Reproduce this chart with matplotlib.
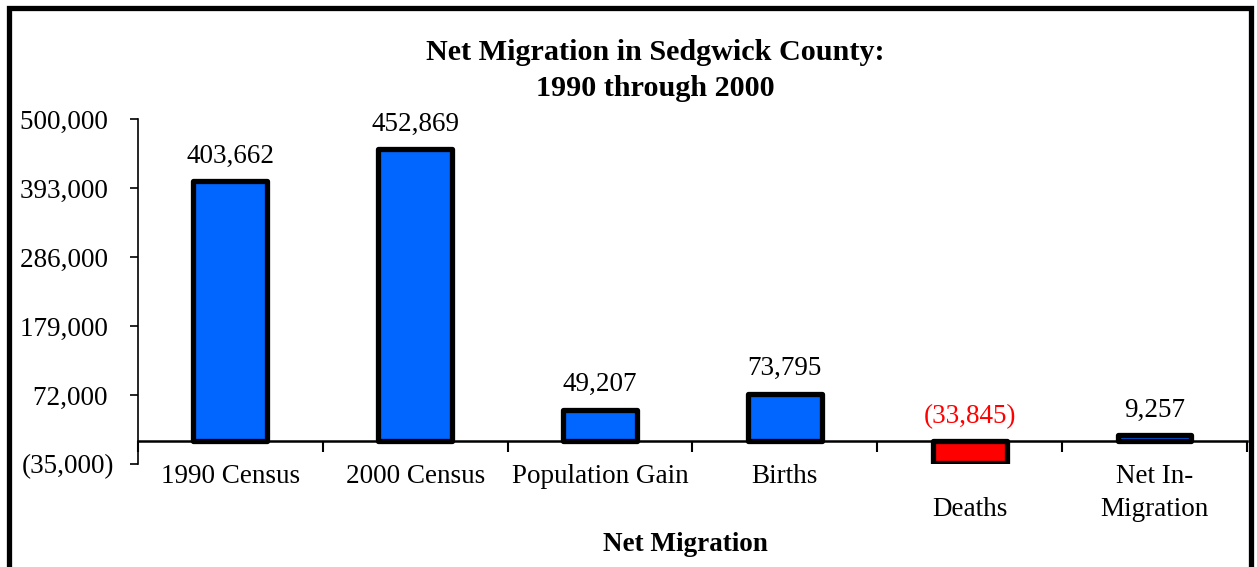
import matplotlib.pyplot as plt
from matplotlib.patches import Rectangle
from matplotlib.ticker import FixedLocator, FuncFormatter

# Components of population change, 1990-2000
categories = ["1990 Census", "2000 Census", "Population Gain", "Births",
              "\nDeaths", "Net In-\nMigration"]
values = [403662, 452869, 49207, 73795, -33845, 9257]
bar_colors = ["#0066FF", "#0066FF", "#0066FF", "#0066FF", "#FF0000", "#0066FF"]
label_colors = ["black", "black", "black", "black", "#FF0000", "black"]
y_ticks = [-35000, 72000, 179000, 286000, 393000, 500000]

plt.rcParams['font.family'] = ['Liberation Serif', 'DejaVu Serif']
FS = 19.5

fig = plt.figure(figsize=(12.57, 5.67), dpi=100)
ax = fig.add_axes([0.1098, 0.1817, 0.8822, 0.6085])

x = range(len(values))
ax.bar(x, values, width=0.4, color=bar_colors, edgecolor="black",
       linewidth=3.8, joinstyle="round", zorder=3)


def money(v, pos=None):
    # negatives shown in parentheses, positives padded to line up
    if v < 0:
        return f"({abs(v):,.0f})"
    return f"{v:,.0f} "


for i, v in enumerate(values):
    ax.annotate(money(v).strip(), (i, max(v, 0)), xytext=(0, 9),
                textcoords="offset points", ha="center", va="bottom",
                fontsize=FS, color=label_colors[i])

ax.set_xlim(-0.5, len(values) - 0.5)
ax.set_ylim(y_ticks[0], y_ticks[-1])

ax.yaxis.set_major_locator(FixedLocator(y_ticks))
ax.yaxis.set_major_formatter(FuncFormatter(money))
ax.tick_params(axis="y", direction="out", length=6, width=1.2, labelsize=FS, pad=11)

# category axis sits on the zero line
ax.spines["bottom"].set_position(("data", 0))
ax.spines["bottom"].set_linewidth(1.8)
ax.spines["left"].set_linewidth(1.2)
ax.spines["top"].set_visible(False)
ax.spines["right"].set_visible(False)
ax.set_xticks([i + 0.5 for i in range(-1, len(values))])
ax.set_xticklabels([])
ax.tick_params(axis="x", which="major", direction="out", length=8, width=1.5)
ax.set_xticks(list(x), minor=True)
ax.set_xticklabels(categories, minor=True, fontsize=FS, va="top",
                   linespacing=1.45)
ax.tick_params(axis="x", which="minor", length=0, pad=16)

fig.text(0.521, 0.932, "Net Migration in Sedgwick County:\n1990 through 2000",
         ha="center", va="top", fontsize=21.7, fontweight="bold", linespacing=1.45)
fig.text(0.545, 0.040, "Net Migration", ha="center", va="center",
         fontsize=FS, fontweight="bold")

# outer frame
fig.patches.append(Rectangle((0.0075, -0.05), 0.9875, 1.0365, transform=fig.transFigure,
                             fill=False, edgecolor="black", linewidth=3.8))

fig.savefig("out.png", dpi=100)
